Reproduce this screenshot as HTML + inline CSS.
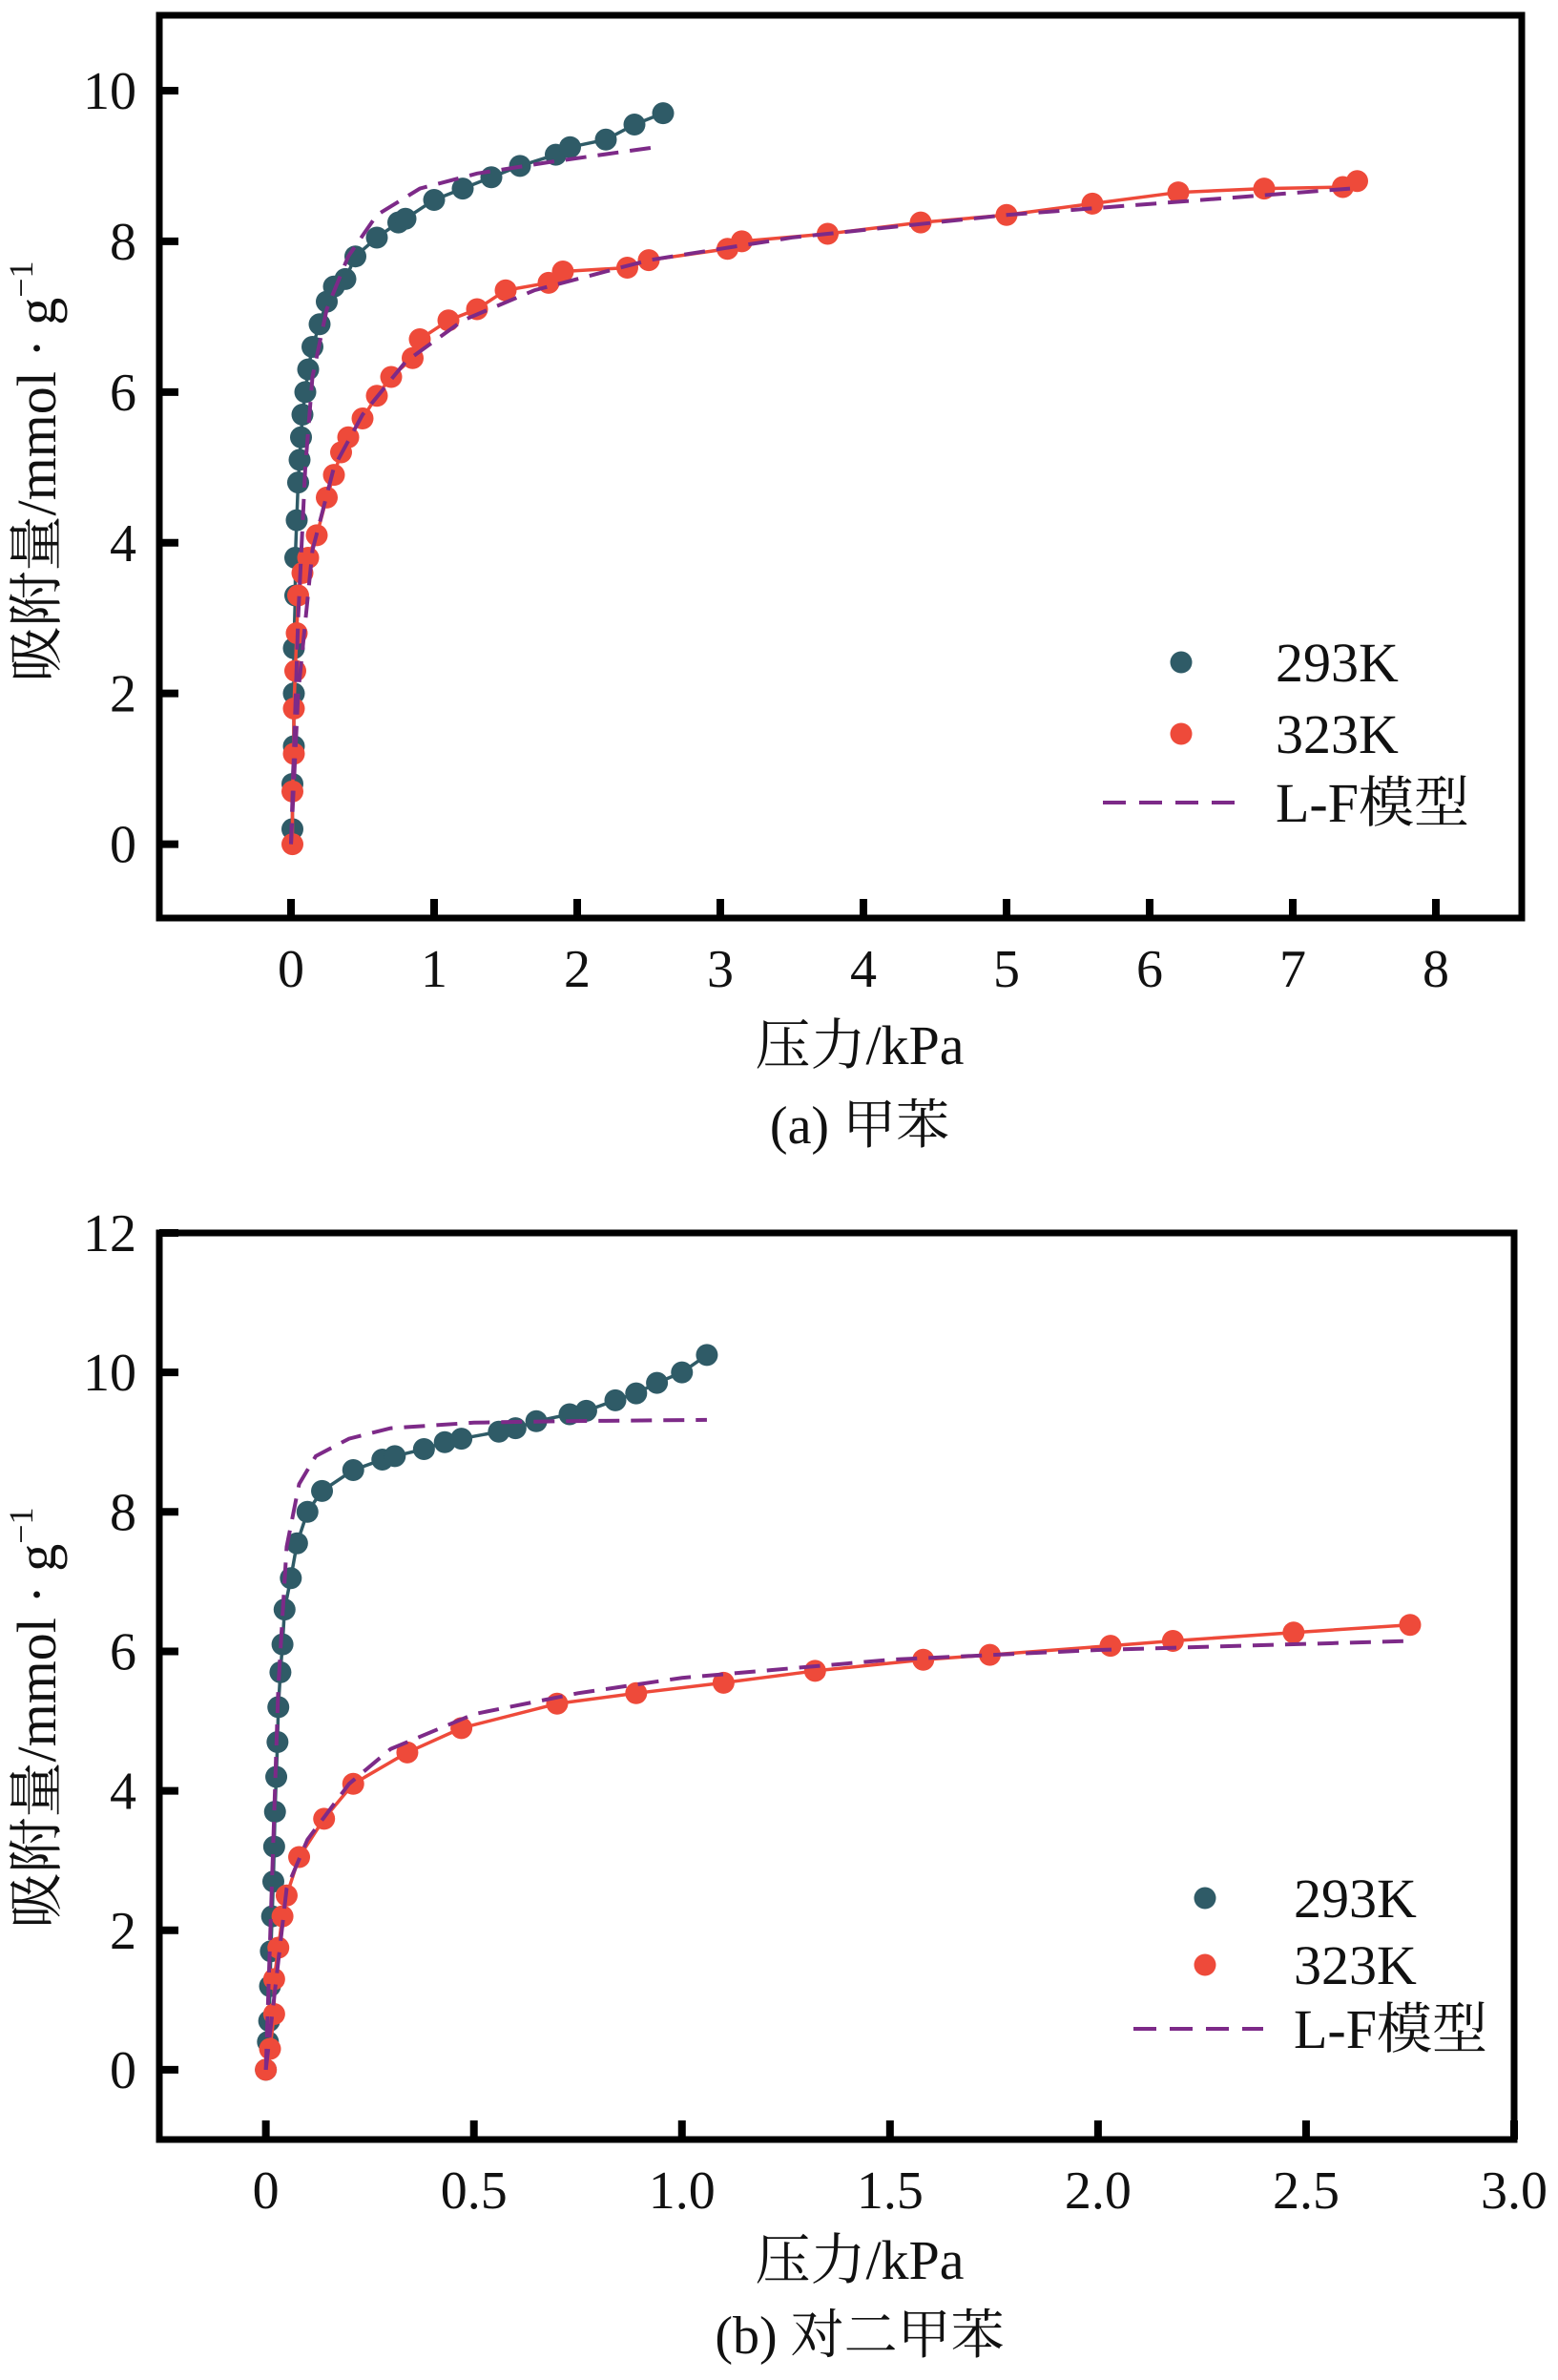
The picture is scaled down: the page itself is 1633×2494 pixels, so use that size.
<!DOCTYPE html>
<html><head><meta charset="utf-8">
<style>
html,body{margin:0;padding:0;background:#fff;}
svg{display:block;}
text{font-family:"Liberation Serif","Noto Serif CJK SC","Noto Sans CJK SC",serif;fill:#111;}
</style></head>
<body>
<svg id="fig" width="1633" height="2494" viewBox="0 0 1633 2494"></svg>
<script>
// ---- Chart (a) toluene data ----
const aXTicks = [0,1,2,3,4,5,6,7,8];
const aYTicks = [0,2,4,6,8,10];
const a293x = [0.01,0.01,0.02,0.02,0.02,0.03,0.03,0.04,0.05,0.06,0.07,0.08,0.1,0.12,0.15,0.2,0.25,0.3,0.38,0.45,0.6,0.75,0.8,1.0,1.2,1.4,1.6,1.85,1.95,2.2,2.4,2.6];
const a293y = [0.2,0.8,1.3,2.0,2.6,3.3,3.8,4.3,4.8,5.1,5.4,5.7,6.0,6.3,6.6,6.9,7.2,7.4,7.5,7.8,8.05,8.25,8.3,8.55,8.7,8.85,9.0,9.15,9.25,9.35,9.55,9.7];
const a293fx = [0,0.05,0.1,0.15,0.25,0.4,0.6,0.9,1.3,1.8,2.55];
const a293fy = [0,3,5,6.2,7.1,7.8,8.35,8.7,8.9,9.05,9.25];
const a323x = [0.01,0.01,0.02,0.02,0.03,0.04,0.05,0.08,0.12,0.18,0.25,0.3,0.35,0.4,0.5,0.6,0.7,0.85,0.9,1.1,1.3,1.5,1.8,1.9,2.35,2.5,3.05,3.15,3.75,4.4,5.0,5.6,6.2,6.8,7.35,7.45];
const a323y = [0.0,0.7,1.2,1.8,2.3,2.8,3.3,3.6,3.8,4.1,4.6,4.9,5.2,5.4,5.65,5.95,6.2,6.45,6.7,6.95,7.1,7.35,7.45,7.6,7.65,7.75,7.9,8.0,8.1,8.25,8.35,8.5,8.65,8.7,8.72,8.8];
const a323fx = [0,0.05,0.15,0.3,0.5,0.8,1.2,1.7,2.5,3.5,5,7.4];
const a323fy = [0,2,3.9,5,5.7,6.4,6.95,7.35,7.75,8.05,8.35,8.7];

// ---- Chart (b) p-xylene data ----
const bXTicks = [0,0.5,1.0,1.5,2.0,2.5,3.0];
const bXLabels = ["0","0.5","1.0","1.5","2.0","2.5","3.0"];
const bYTicks = [0,2,4,6,8,10,12];
const b293x = [0,0.005,0.008,0.01,0.012,0.015,0.018,0.02,0.022,0.025,0.028,0.03,0.035,0.04,0.045,0.06,0.075,0.1,0.135,0.21,0.28,0.31,0.38,0.43,0.47,0.56,0.6,0.65,0.73,0.77,0.84,0.89,0.94,1.0,1.06];
const b293y = [0,0.4,0.7,1.2,1.7,2.2,2.7,3.2,3.7,4.2,4.7,5.2,5.7,6.1,6.6,7.05,7.55,8.0,8.3,8.6,8.75,8.8,8.9,9.0,9.05,9.15,9.2,9.3,9.4,9.45,9.6,9.7,9.85,10.0,10.25];
const b293fx = [0,0.03,0.05,0.08,0.12,0.2,0.3,0.5,0.7,1.06];
const b293fy = [0,5.5,7.5,8.4,8.8,9.05,9.2,9.28,9.3,9.32];
const b323x = [0,0.01,0.02,0.02,0.03,0.04,0.05,0.08,0.14,0.21,0.34,0.47,0.7,0.89,1.1,1.32,1.58,1.74,2.03,2.18,2.47,2.75];
const b323y = [0,0.3,0.8,1.3,1.75,2.2,2.5,3.05,3.6,4.1,4.55,4.9,5.25,5.4,5.55,5.72,5.88,5.95,6.08,6.15,6.27,6.38];
const b323fx = [0,0.05,0.1,0.2,0.3,0.5,0.75,1.0,1.5,2.0,2.75];
const b323fy = [0,2.6,3.3,4.1,4.6,5.1,5.4,5.62,5.88,6.02,6.15];

const NS = "http://www.w3.org/2000/svg";
const svg = document.getElementById('fig');
const TEAL = "#2f5b67", RED = "#ee4a3a", PURP = "#7d2a88";

function mk(tag, attrs, parent){
  const e = document.createElementNS(NS, tag);
  for (const k in attrs) e.setAttribute(k, attrs[k]);
  (parent||svg).appendChild(e);
  return e;
}

function chart(cfg){
  const g = mk('g', {});
  
  
  const sx = v => cfg.x0 + (v - cfg.xmin) / (cfg.xmax - cfg.xmin) * (cfg.x1 - cfg.x0);
  const sy = v => cfg.y1 - (v - cfg.ymin) / (cfg.ymax - cfg.ymin) * (cfg.y1 - cfg.y0);
  const fr = mk('rect', {x:cfg.x0, y:cfg.y0, width:cfg.x1-cfg.x0, height:cfg.y1-cfg.y0, fill:'none', stroke:'#000', 'stroke-width':7}, g);
  
  
  cfg.yTicks.forEach(v => {
    const y = sy(v);
    const t = mk('line', {x1:cfg.x0, x2:cfg.x0+20, y1:y, y2:y, stroke:'#000', 'stroke-width':8}, g);
    
    
    const l = mk('text', {x:cfg.x0-24, y:y+19, 'text-anchor':'end', 'font-size':56}, g);
    
    
    l.textContent = String(v);
  });
  cfg.xTicks.forEach((v, i) => {
    const x = sx(v);
    const t = mk('line', {x1:x, x2:x, y1:cfg.y1, y2:cfg.y1-20, stroke:'#000', 'stroke-width':8}, g);
    
    
    const l = mk('text', {x:x, y:cfg.y1+72, 'text-anchor':'middle', 'font-size':56}, g);
    
    
    l.textContent = cfg.xLabels ? cfg.xLabels[i] : String(v);
  });
  const pts = (xs, ys) => xs.map((x, i) => sx(x) + ',' + sy(ys[i])).join(' ');
  const series = [
    {xs:cfg.s1x, ys:cfg.s1y, c:TEAL, n:'series-293k'},
    {xs:cfg.s2x, ys:cfg.s2y, c:RED, n:'series-323k'}
  ];
  series.forEach(s => {
    const pl = mk('polyline', {points:pts(s.xs, s.ys), fill:'none', stroke:s.c, 'stroke-width':3.5, 'stroke-linejoin':'round'}, g);
    
    
    s.xs.forEach((x, i) => {
      const c = mk('circle', {cx:sx(x), cy:sy(s.ys[i]), r:11.5, fill:s.c}, g);
      
      
    });
  });
  [[cfg.f1x, cfg.f1y, 'fit-293k'], [cfg.f2x, cfg.f2y, 'fit-323k']].forEach(f => {
    const pl = mk('polyline', {points:pts(f[0], f[1]), fill:'none', stroke:PURP, 'stroke-width':4, 'stroke-dasharray':'22,12'}, g);
    
    
  });
  const lg = mk('g', {}, g);
  
  
  const L = cfg.leg;
  const e1 = mk('circle', {cx:L.mx, cy:L.y1, r:11.5, fill:TEAL}, lg);
  
  
  const e2 = mk('circle', {cx:L.mx, cy:L.y2, r:11.5, fill:RED}, lg);
  
  
  const e3 = mk('line', {x1:L.lx0, x2:L.lx1, y1:L.y3, y2:L.y3, stroke:PURP, 'stroke-width':4, 'stroke-dasharray':'24,14'}, lg);
  
  
  [['293K', L.y1, 'legend-label-293k'], ['323K', L.y2, 'legend-label-323k'], ['L-F模型', L.y3, 'legend-label-lf']].forEach(a => {
    const t = mk('text', {x:L.tx, y:a[1]+20, 'font-size':58}, lg);
    
    
    t.textContent = a[0];
  });
  const xt = mk('text', {x:cfg.xtX, y:cfg.xtY, 'text-anchor':'middle', 'font-size':58}, g);
  
  
  xt.textContent = '压力/kPa';
  const yt = mk('text', {x:0, y:0, 'text-anchor':'middle', 'font-size':58, transform:'translate(58,' + cfg.ytY + ') rotate(-90)'}, g);
  
  
  yt.textContent = '吸附量/mmol · g';
  const sup = mk('tspan', {'font-size':36, dy:-24}, yt);
  sup.textContent = '−1';
  const cap = mk('text', {x:cfg.xtX, y:cfg.capY, 'text-anchor':'middle', 'font-size':56}, g);
  
  
  cap.textContent = cfg.caption;
}

chart({name:'chart-a-toluene', x0:167, x1:1595, y0:16, y1:962,
  xmin:-0.92, xmax:8.6, ymin:-0.98, ymax:11.0,
  xTicks:aXTicks, yTicks:aYTicks,
  s1x:a293x, s1y:a293y, s2x:a323x, s2y:a323y,
  f1x:a293fx, f1y:a293fy, f2x:a323fx, f2y:a323fy,
  leg:{mx:1238, lx0:1156, lx1:1300, tx:1337, y1:694, y2:769, y3:841},
  xtX:901, xtY:1115, ytY:494, capY:1198, caption:'(a) 甲苯'});

chart({name:'chart-b-p-xylene', x0:167, x1:1587, y0:1292, y1:2242,
  xmin:-0.256, xmax:3.0, ymin:-1, ymax:12,
  xTicks:bXTicks, xLabels:bXLabels, yTicks:bYTicks,
  s1x:b293x, s1y:b293y, s2x:b323x, s2y:b323y,
  f1x:b293fx, f1y:b293fy, f2x:b323fx, f2y:b323fy,
  leg:{mx:1263, lx0:1188, lx1:1324, tx:1356, y1:1989, y2:2059, y3:2126},
  xtX:901, xtY:2388, ytY:1800, capY:2466, caption:'(b) 对二甲苯'});
</script>
</body></html>
